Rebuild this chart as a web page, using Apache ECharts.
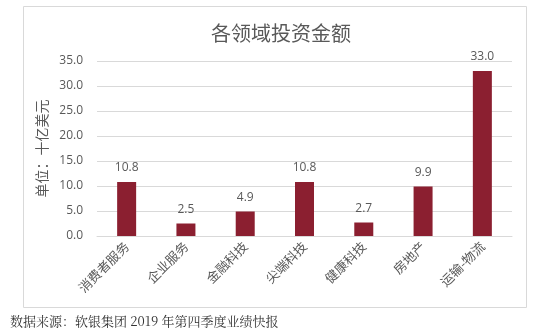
<!DOCTYPE html>
<html><head><meta charset="utf-8">
<script src="https://cdn.jsdelivr.net/npm/echarts@6/dist/echarts.min.js"></script>
<style>html,body{margin:0;padding:0;background:#fff}#c{width:554px;height:336px}</style>
</head><body><div id="c"></div>
<script>
const categories = ['消费者服务','企业服务','金融科技','尖端科技','健康科技','房地产','运输-物流'];
const values = [10.8, 2.5, 4.9, 10.8, 2.7, 9.9, 33.0];
const yTicks = [0, 5, 10, 15, 20, 25, 30, 35];
const titleText = '各领域投资金额';
const yName = '单位：十亿美元';
const sourceText = '数据来源：软银集团 2019 年第四季度业绩快报';

const chart = echarts.init(document.getElementById('c'));
const grey = '#595959';
chart.setOption({
  animation: false,
  graphic: [
    {type:'rect', shape:{x:23.5,y:6.5,width:503,height:301}, style:{fill:'none',stroke:'#d9d9d9',lineWidth:1}},
    {type:'text', left:10, top:315, style:{text:sourceText, fill:'#333', font:'13px "Noto Serif CJK SC", "Noto Sans CJK SC", serif'}}
  ],
  title: {text:titleText, left:276, top:18, textAlign:'center',
    textStyle:{color:grey, fontSize:20, fontWeight:'normal', fontFamily:'"Noto Sans CJK SC", sans-serif'}},
  grid: {left:97, right:42, top:61, bottom:100},
  xAxis: {type:'category', data:categories,
    axisLine:{lineStyle:{color:'#d9d9d9', width:1}}, axisTick:{show:false},
    axisLabel:{rotate:45, color:grey, fontSize:13, margin:8, fontFamily:'"Noto Sans CJK SC", sans-serif'}},
  yAxis: {type:'value', min:0, max:35, interval:5,
    name:yName, nameLocation:'middle', nameGap:48, nameRotate:90,
    nameTextStyle:{color:grey, fontSize:14, fontFamily:'"Noto Sans CJK SC", sans-serif'},
    axisLabel:{color:grey, fontSize:12, margin:14, fontFamily:'"Open Sans", sans-serif',
      formatter:v => yTicks.includes(v) ? v.toFixed(1) : ''},
    splitLine:{lineStyle:{color:'#d9d9d9', width:1}}},
  series: [{type:'bar', data:values, barWidth:19,
    itemStyle:{color:'#8b1f30'},
    label:{show:true, position:'top', distance:8, color:grey, fontSize:12, fontFamily:'"Open Sans", sans-serif',
      formatter:p => p.value.toFixed(1)}}]
});
</script></body></html>
